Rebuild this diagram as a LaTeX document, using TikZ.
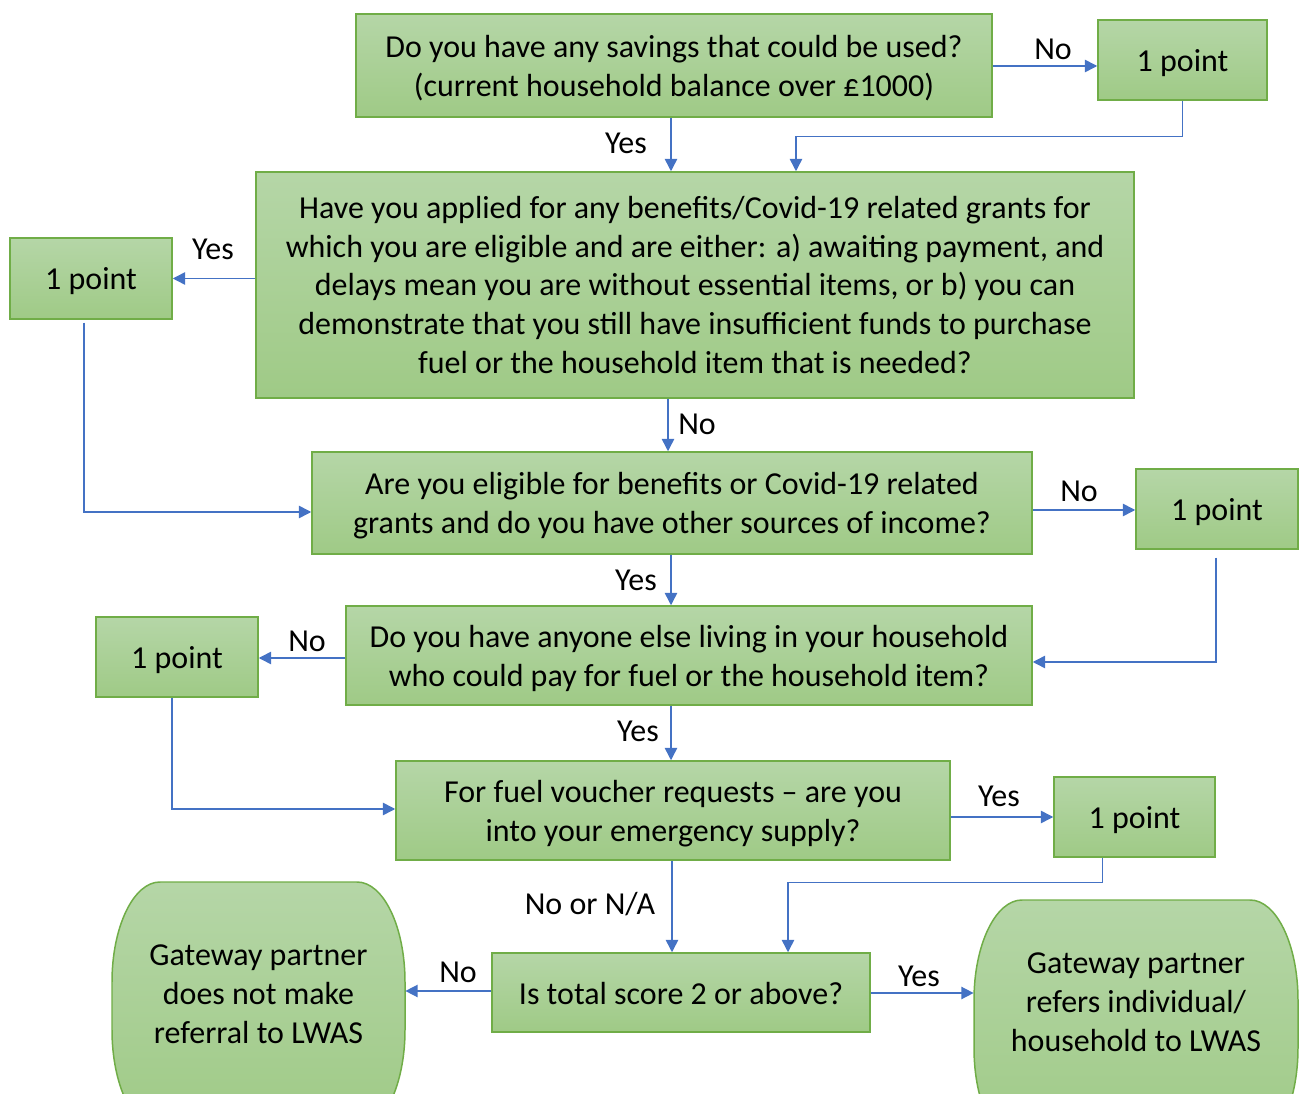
\documentclass[tikz,border=0pt]{standalone}
\usepackage{fontspec}
\setmainfont{Carlito}
\usetikzlibrary{arrows.meta,calc}
\definecolor{bord}{HTML}{70AD47}
\definecolor{gtop}{HTML}{B5D6A7}
\definecolor{gbot}{HTML}{9FCA86}
\definecolor{arrc}{HTML}{4472C4}
\newcommand\termpath[5]{% x1, x2, ytop, ybottom, straight-half
  \pgfmathsetmacro\ym{(#3+#4)/2}
  \pgfmathsetmacro\rx{48}
  \pgfmathsetmacro\ry{(#4-#3)/2-#5}
  \path[termshape]
    ({#1+\rx},#3) -- ({#2-\rx},#3)
    .. controls ({#2-\rx+0.552*\rx},#3) and (#2,{\ym-#5-\ry+0.448*\ry}) .. (#2,{\ym-#5})
    -- (#2,{\ym+#5})
    .. controls (#2,{\ym+#5+0.552*\ry}) and ({#2-0.448*\rx},#4) .. ({#2-\rx},#4)
    -- ({#1+\rx},#4)
    .. controls ({#1+0.448*\rx},#4) and (#1,{\ym+#5+0.552*\ry}) .. (#1,{\ym+#5})
    -- (#1,{\ym-#5})
    .. controls (#1,{\ym-#5-0.552*\ry}) and ({#1+0.448*\rx},#3) .. ({#1+\rx},#3) -- cycle;
}
\begin{document}
\begin{tikzpicture}[x=0.02cm,y=-0.02cm,
  font=\fontsize{18.2}{22.1}\selectfont,
  box/.style 2 args={draw=bord,line width=0.85pt,top color=gtop,bottom color=gbot,
    minimum width=#1*0.02cm,minimum height=#2*0.02cm,inner sep=0pt},
  txt/.style={label={[inner sep=0pt,align=center,yshift=-1.7pt]center:{#1}}},
  txtz/.style={label={[inner sep=0pt,align=center]center:{#1}}},
  txts/.style={label={[inner sep=0pt,align=center,yshift=-0.6pt]center:{#1}}},
  termshape/.style={draw=bord,line width=0.85pt,top color=gtop,bottom color=gbot},
  termtext/.style 2 args={minimum width=#1*0.02cm,minimum height=#2*0.02cm,inner sep=0pt,align=center},
  arr/.style={draw=arrc,line width=0.85pt,-{Triangle[length=7pt,width=7pt]}},
  lbl/.style={inner sep=0pt}
]
\useasboundingbox (0,0) rectangle (1299,1094);
\clip (0,0) rectangle (1299,1094);

% boxes
\node[box={636}{103},txt={Do you have any savings that could be used?\\(current household balance over £1000)}] (q1) at (674,65.5) {};
\node[box={169}{80},txt={1 point}] (p1) at (1182.5,60) {};
\node[box={878}{226},txtz={Have you applied for any benefits/Covid-19 related grants for\\which you are eligible and are either: a) awaiting payment, and\\delays mean you are without essential items, or b) you can\\demonstrate that you still have insufficient funds to purchase\\fuel or the household item that is needed?}] (q2) at (695,285) {};
\node[box={162}{81},txt={1 point}] (p2) at (91,278.5) {};
\node[box={720}{102},txt={Are you eligible for benefits or Covid-19 related\\grants and do you have other sources of income?}] (q3) at (672,503) {};
\node[box={162}{80},txt={1 point}] (p3) at (1217,509) {};
\node[box={686}{99},txt={Do you have anyone else living in your household\\who could pay for fuel or the household item?}] (q4) at (689,655.5) {};
\node[box={162}{80},txt={1 point}] (p4) at (177,657) {};
\node[box={554}{99},txt={For fuel voucher requests – are you\\into your emergency supply?}] (q5) at (673,810.5) {};
\node[box={161}{80},txt={1 point}] (p5) at (1134.5,817) {};
\node[box={378}{79},txts={Is total score 2 or above?}] (q6) at (681,992.5) {};

% terminators
\termpath{112}{405}{882}{1130}{24}
\node[termtext={293}{222}] (t1) at (258.5,994) {Gateway partner\\does not make\\referral to LWAS};
\termpath{974}{1298}{900}{1148}{24}
\node[termtext={324}{200}] (t2) at (1136,1002) {Gateway partner\\refers individual/\\household to LWAS};

% connectors
\draw[arr] (q1.east |- 0,66) -- (p1.west |- 0,66);
\draw[arr] (q1.south -| 671,0) -- (q2.north -| 671,0);
\draw[arr] (p1.south) -- ++(0,36) -| ($(q2.north)+(101,0)$);
\draw[arr] (q2.west |- p2.east) -- (p2.east);
\draw[arr] (q2.south -| 668,0) -- (q3.north -| 668,0);
\draw[arr] ($(p2.south)+(-7,3)$) |- ($(q3.west)+(0,9)$);
\draw[arr] (q3.east |- 0,510) -- (p3.west |- 0,510);
\draw[arr] (q3.south -| 671,0) -- (q4.north -| 671,0);
\draw[arr] ($(p3.south)+(-1,8)$) |- ($(q4.east)+(0,6.5)$);
\draw[arr] (q4.west |- 0,658) -- (p4.east |- 0,658);
\draw[arr] (q4.south -| 671,0) -- (q5.north -| 671,0);
\draw[arr] ($(p4.south)+(-5,0)$) |- ($(q5.west)+(0,-1.5)$);
\draw[arr] (q5.east |- p5.west) -- (p5.west);
\draw[arr] (q5.south -| 672,0) -- (q6.north -| 672,0);
\draw[arr] ($(p5.south)+(-32,0)$) -- ++(0,25) -| ($(q6.north)+(107,0)$);
\draw[arr] (q6.west |- 0,991) -- (t1.east |- 0,991);
\draw[arr] (q6.east |- 0,993) -- (t2.west |- 0,993);

% labels
\node[lbl] (l1) at (1053,49) {No};
\node[lbl] (l2) at (626,143) {Yes};
\node[lbl] (l3) at (213,249) {Yes};
\node[lbl] (l4) at (697,424) {No};
\node[lbl] (l5) at (1079,491) {No};
\node[lbl] (l6) at (636,580) {Yes};
\node[lbl] (l7) at (307,641) {No};
\node[lbl] (l8) at (638,731) {Yes};
\node[lbl] (l9) at (999,796) {Yes};
\node[lbl] (l10) at (590,904) {No or N/A};
\node[lbl] (l11) at (458,972) {No};
\node[lbl] (l12) at (919,976) {Yes};
\end{tikzpicture}
\end{document}
